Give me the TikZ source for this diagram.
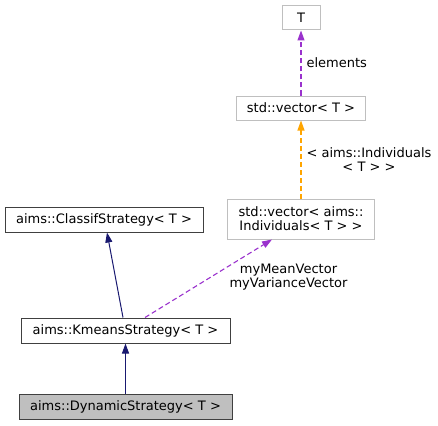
\documentclass[tikz,border=0pt]{standalone}
\usepackage{fontspec}
\setmainfont{DejaVu Sans}
\usetikzlibrary{arrows.meta}
\definecolor{edgeblue}{HTML}{191970}
\definecolor{edgepurple}{HTML}{9A32CD}
\definecolor{edgeorange}{HTML}{FFA500}
\definecolor{boxgray}{HTML}{BFBFBF}
\begin{document}
\begin{tikzpicture}[x=1pt, y=-1pt,
  every node/.style={font=\fontsize{13}{14}\selectfont, text=black, inner sep=0pt, align=center},
  cls/.style={draw=black!75, line width=1pt, minimum height=25pt},
  ext/.style={draw=boxgray, line width=1pt, minimum height=24pt},
  inh/.style={edgeblue, line width=1pt, -{Triangle[length=10pt, width=7pt]}},
  use/.style={edgepurple, line width=1.1pt, dash pattern=on 5pt off 3pt, -{Triangle[length=10pt, width=7pt]}},
  tpl/.style={edgeorange, line width=1.1pt, dash pattern=on 5pt off 3pt, -{Triangle[length=10pt, width=7pt]}}]
  \useasboundingbox (0,0) rectangle (438,425);
  % classes
  \node[ext, minimum width=38pt] (T) at (301,18) {T};
  \node[ext, minimum width=129pt] (vecT) at (301,108) {std::vector< T >};
  \node[ext, minimum width=147pt, minimum height=40pt] (vecInd) at (301,219) {std::vector< aims::\\Individuals< T > >};
  \node[cls, minimum width=198pt] (classif) at (104,219.5) {aims::ClassifStrategy< T >};
  \node[cls, minimum width=209pt] (kmeans) at (125.5,330.5) {aims::KmeansStrategy< T >};
  \node[cls, minimum width=213pt, fill=boxgray] (dynamic) at (125.5,406.5) {aims::DynamicStrategy< T >};
  % edges
  \draw[use] (vecT) -- (T) node[midway, right=5pt] {elements};
  \draw[tpl] (vecInd) -- (vecT) node[midway, right=5pt] {< aims::Individuals\\< T > >};
  \draw[inh] ([xshift=-2.5pt]kmeans.north) -- ([xshift=3pt]classif.south);
  \draw[use] ([xshift=19.5pt]kmeans.north) -- ([xshift=-29pt]vecInd.south)
    node[midway, xshift=80pt, yshift=1.5pt] {myMeanVector\\myVarianceVector};
  \draw[inh] (dynamic) -- (kmeans);
\end{tikzpicture}
\end{document}
